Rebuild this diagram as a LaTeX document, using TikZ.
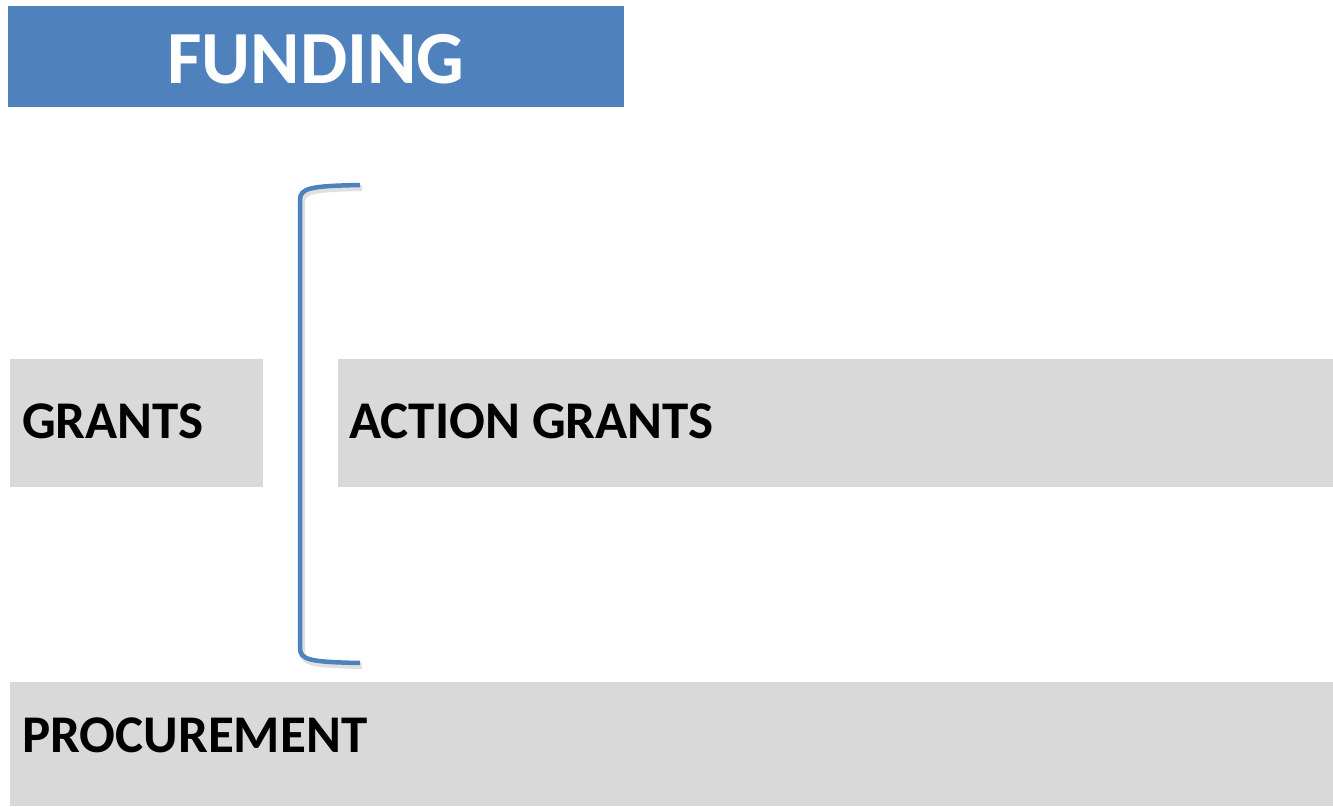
\documentclass[tikz,border=0pt]{standalone}
\usepackage{fontspec}
\setmainfont{Carlito}
\definecolor{hdrblue}{HTML}{4F81BD}
\definecolor{boxgray}{HTML}{D9D9D9}
\tikzset{
  box/.style={fill=boxgray, draw=none, inner sep=0pt, outer sep=0pt},
  lbl/.style={anchor=base west, inner sep=0pt, font=\bfseries\fontsize{53}{60}\selectfont, text=black},
  hdr/.style={fill=hdrblue, draw=none, inner sep=0pt, outer sep=0pt},
}
\begin{document}
\begin{tikzpicture}[x=1pt,y=-1pt]
\useasboundingbox (0,0) rectangle (1333,806);
% header
\path[hdr] (8,6) rectangle (624,107);
\node[anchor=base, inner sep=0pt, text=white, font=\bfseries\fontsize{75}{90}\selectfont] (funding) at (316,83) {FUNDING};
% boxes
\path[box] (10,359) rectangle (263,487);
\node[lbl] (grants) at (22,438) {GRANTS};
\path[box] (338,359) rectangle (1333,487);
\node[lbl] (action) at (349,438) {ACTION GRANTS};
\path[box] (10,682) rectangle (1333,806);
\node[lbl] (proc) at (22,752) {PROCUREMENT};
% bracket
\coordinate (btop) at (360,185);
\coordinate (bbot) at (360,663);
\draw[line width=6pt, black, opacity=0.12, line cap=butt, transform canvas={shift={(2pt,-3pt)}}]
  (btop) .. controls (310,186) and (300,188) .. (300,200) -- (300,648) .. controls (300,660) and (310,662) .. (bbot);
\draw[line width=4.5pt, hdrblue, line cap=butt]
  (btop) .. controls (310,186) and (300,188) .. (300,200) -- (300,648) .. controls (300,660) and (310,662) .. (bbot);
\end{tikzpicture}
\end{document}
